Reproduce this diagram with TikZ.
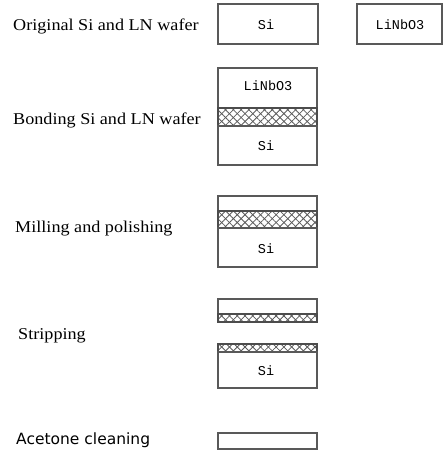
\documentclass[tikz,border=0pt]{standalone}
\usepackage{fontspec}
\setmainfont{Liberation Serif}
\newfontfamily\boxfont{Liberation Mono}
\newfontfamily\sansfnt{DejaVu Sans}
\usetikzlibrary{patterns.meta}
\tikzset{
  wafer/.style={draw=black!65, line width=1.1pt, fill=white},
  bond/.style={draw=black!70, line width=1.1pt,
    pattern={Lines[angle=45,distance=5.5pt,line width=0.8pt]}, pattern color=black!65},
  bond2/.style={draw=black!70, line width=1.1pt,
    pattern={Lines[angle=-45,distance=5.5pt,line width=0.8pt]}, pattern color=black!65},
  steplabel/.style={anchor=west, inner sep=0pt, font=\fontsize{16.5}{18}\selectfont},
  matlabel/.style={inner sep=0pt, font=\boxfont\fontsize{13.5}{14}\selectfont}
}
\newcommand{\bondlayer}[4]{%
  \draw[bond] (#1,#2) rectangle (#3,#4);
  \path[bond2] (#1,#2) rectangle (#3,#4);
}
\begin{document}
\begin{tikzpicture}[x=1pt,y=-1pt]
\useasboundingbox (0,0) rectangle (446,452);
% labels
\node[steplabel] (l1) at (13,26) {\scalebox{1.1}[1]{Original Si and LN wafer}};
\node[steplabel] (l2) at (13,120) {\scalebox{1.1}[1]{Bonding Si and LN wafer}};
\node[steplabel] (l3) at (15,229) {\scalebox{1.1}[1]{Milling and polishing}};
\node[steplabel] (l4) at (18,336) {\scalebox{1.1}[1]{Stripping}};
\node[anchor=west, inner sep=0pt, font=\sansfnt\fontsize{15.5}{17}\selectfont] (l5) at (16,440) {Acetone cleaning};
% step 1
\draw[wafer] (218,4) rectangle (318,44);
\node[matlabel] (si1) at (266,25) {Si};
\draw[wafer] (357,4) rectangle (442,44);
\node[matlabel] (ln1) at (400,25) {LiNbO3};
% step 2
\draw[wafer] (218,68) rectangle (317,108);
\node[matlabel] (ln2) at (268,86) {LiNbO3};
\bondlayer{218}{108}{317}{126}
\draw[wafer] (218,126) rectangle (317,165);
\node[matlabel] (si2) at (266,146) {Si};
% step 3
\draw[wafer] (218,196) rectangle (317,211);
\bondlayer{218}{211}{317}{228}
\draw[wafer] (218,228) rectangle (317,267);
\node[matlabel] (si3) at (266,249) {Si};
% step 4
\draw[wafer] (218,299) rectangle (317,314);
\bondlayer{218}{314}{317}{322}
\bondlayer{218}{344}{317}{352}
\draw[wafer] (218,352) rectangle (317,388);
\node[matlabel] (si4) at (266,371) {Si};
% step 5
\draw[wafer] (218,433) rectangle (317,449);
\end{tikzpicture}
\end{document}
